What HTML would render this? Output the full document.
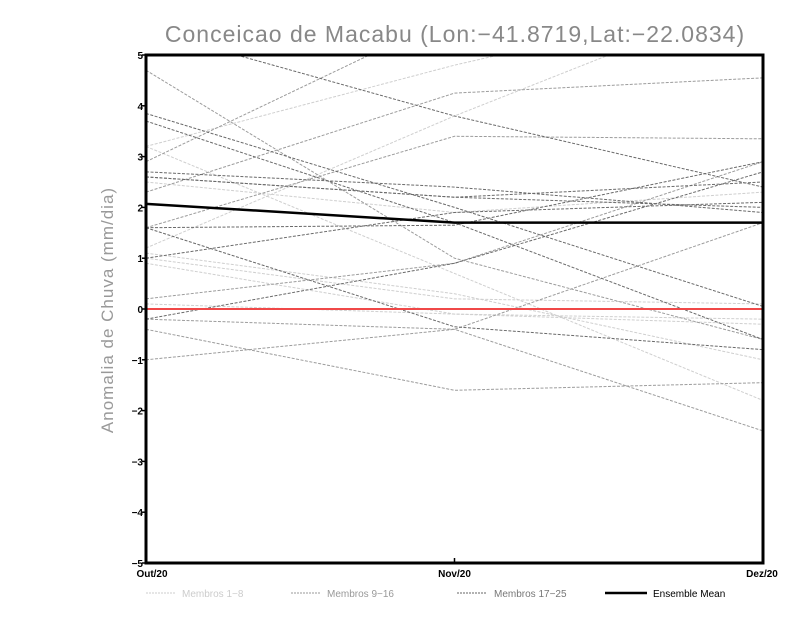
<!DOCTYPE html>
<html><head><meta charset="utf-8"><style>
body{margin:0;background:#fff;width:800px;height:618px;overflow:hidden}
svg{display:block}
</style></head><body>
<svg id="chart" width="800" height="618" font-family="Liberation Sans, sans-serif">
<text x="455" y="42" text-anchor="middle" font-size="23" fill="#888" letter-spacing="1">Conceicao de Macabu (Lon:−41.8719,Lat:−22.0834)</text>
<text transform="translate(113,310) rotate(-90)" text-anchor="middle" font-size="17" fill="#999" letter-spacing="1">Anomalia de Chuva (mm/dia)</text>
<defs><clipPath id="clip"><rect x="146" y="55" width="617" height="508"/></clipPath></defs>
<g id="series" clip-path="url(#clip)"></g>
<g id="axes"></g>
<g font-size="10">
<line x1="146" y1="593" x2="176" y2="593" stroke="#ccc" stroke-dasharray="2,1"/>
<text x="182" y="597" fill="#ccc">Membros 1−8</text>
<line x1="291" y1="593" x2="321" y2="593" stroke="#999" stroke-dasharray="2,1"/>
<text x="327" y="597" fill="#999">Membros 9−16</text>
<line x1="457" y1="593" x2="487" y2="593" stroke="#666" stroke-dasharray="2,1"/>
<text x="494" y="597" fill="#777">Membros 17−25</text>
<line x1="605" y1="593" x2="647" y2="593" stroke="#000" stroke-width="2.5"/>
<text x="653" y="597" fill="#000">Ensemble Mean</text>
</g>
</svg>
<script>
const categories = ["Out/20","Nov/20","Dez/20"];
const yTicks = [-5,-4,-3,-2,-1,0,1,2,3,4,5];
const members1to8 = [[1.2,3.8,6.2],[3.2,4.8,6.2],[3.2,0.7,-1.8],[2.5,1.9,2.3],[1.0,0.2,0.1],[0.9,-0.1,-0.2],[0.1,-0.1,-0.3],[1.1,0.3,-1.0]];
const members9to16 = [[4.7,1.0,-0.6],[2.9,5.8,7.0],[2.3,4.25,4.55],[1.6,3.4,3.35],[0.2,0.9,2.9],[-0.4,-1.6,-1.45],[-1.0,-0.4,1.7],[-0.2,-0.4,-2.4]];
const members17to25 = [[5.5,3.8,2.4],[3.85,2.0,0.05],[3.7,1.7,-0.6],[2.7,2.4,1.9],[2.6,2.2,2.5],[2.6,2.2,2.0],[1.6,1.65,2.9],[1.0,1.9,2.1],[1.6,-0.35,-0.8],[-0.2,0.9,2.7]];
const ensembleMean = [2.07,1.7,1.7];
const zeroLine = [0,0,0];

const X0=146,X1=763,Y0=563,Y1=55;
const xs=i=>X0+(X1-X0)*i/(categories.length-1);
const ys=v=>Y0-(v+5)/10*(Y0-Y1);
const NS="http://www.w3.org/2000/svg";
const g=document.getElementById('series'), ax=document.getElementById('axes');
function mk(t,a,p){const e=document.createElementNS(NS,t);for(const k in a)e.setAttribute(k,a[k]);p.appendChild(e);return e;}
function pts(arr){return arr.map((v,i)=>xs(i)+","+ys(v)).join(" ");}
function drawGroup(list,color,name){
  list.forEach((s,k)=>{
    const e=mk('polyline',{points:pts(s),fill:'none',stroke:color,'stroke-width':1,'stroke-dasharray':'3,1.5'},g);
    
    
  });
}
drawGroup(members1to8,'#cfcfcf','member-light');
drawGroup(members9to16,'#9c9c9c','member-mid');
drawGroup(members17to25,'#6a6a6a','member-dark');
const z=mk('polyline',{points:pts(zeroLine),fill:'none',stroke:'#f04848','stroke-width':2},g);


const m=mk('polyline',{points:pts(ensembleMean),fill:'none',stroke:'#000','stroke-width':2.5},g);


const fr=mk('rect',{x:X0,y:Y1,width:X1-X0,height:Y0-Y1,fill:'none',stroke:'#000','stroke-width':3},ax);


yTicks.forEach(v=>{
  mk('line',{x1:X0-4,y1:ys(v),x2:X0,y2:ys(v),stroke:'#000','stroke-width':1.5},ax);
  const t=mk('text',{x:X0-3,y:ys(v)+4,'text-anchor':'end','font-size':10,'font-weight':'bold'},ax);
  t.textContent=(v<0?'−'+(-v):v);
  
  
});
categories.forEach((c,i)=>{
  mk('line',{x1:xs(i),y1:Y0,x2:xs(i),y2:Y0-5,stroke:'#000','stroke-width':1.5},ax);
  const t=mk('text',{x:xs(i)+(i==0?6:i==2?-1:0),y:Y0+14,'text-anchor':'middle','font-size':10,'font-weight':'bold'},ax);
  t.textContent=c;
  
  
});
</script>
</body></html>
